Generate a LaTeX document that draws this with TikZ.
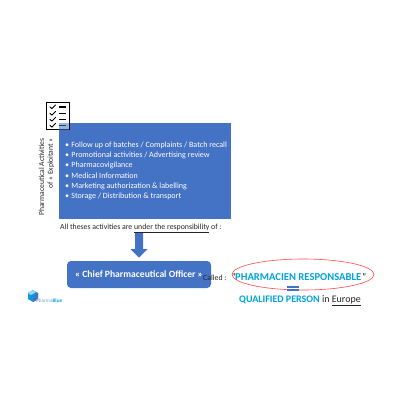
\documentclass[tikz,border=0pt]{standalone}
\usepackage{fontspec}
\setmainfont{Carlito}
\usetikzlibrary{shapes.geometric}
\definecolor{pblue}{HTML}{4472C4}
\definecolor{cyanb}{HTML}{00A3E0}
\definecolor{dtext}{HTML}{262626}
\tikzset{
 boxb/.style={fill=pblue,draw=none,inner sep=0pt},
 itemt/.style={anchor=base west,text=white,font=\fontsize{8.05}{10}\selectfont,inner sep=0pt},
 bodyt/.style={text=dtext,font=\fontsize{7.8}{10}\selectfont,inner sep=0pt},
 tick/.style={line width=1pt,black,line cap=round},
 dashl/.style={line width=1.1pt,black}
}
\begin{document}
\begin{tikzpicture}[x=1pt,y=-1pt]
\useasboundingbox (0,0) rectangle (400,400);
\fill[white] (0,0) rectangle (400,400);
% blue panel
\node[boxb,minimum width=172pt,minimum height=96pt] (panel) at (145,171) {};
% icon
\draw[line width=1.6pt,black,fill=white] (46.5,102.5) rectangle (69.5,129.5);
\foreach \yy in {107,113.5,119.5,125.5}{
 \draw[tick] (50,\yy) -- (52,\yy+1.5) -- (55.5,\yy-2);
 \draw[dashl] (59,\yy) -- (66,\yy);
}
\fill[pblue,opacity=.55] (59,123) rectangle (69,130);
% items
\node[itemt] (i1) at (65,147.5) {•\hspace{2.2pt}Follow up of batches / Complaints / Batch recall};
\node[itemt] (i2) at (65,157.7) {•\hspace{2.2pt}Promotional activities / Advertising review};
\node[itemt] (i3) at (65,167.9) {•\hspace{2.2pt}Pharmacovigilance};
\node[itemt] (i4) at (65,178.1) {•\hspace{2.2pt}Medical Information};
\node[itemt] (i5) at (65,188.3) {•\hspace{2.2pt}Marketing authorization \& labelling};
\node[itemt] (i6) at (65,198.5) {•\hspace{2.2pt}Storage / Distribution \& transport};
% side label
\node[bodyt,rotate=90,align=right,font=\fontsize{7.6}{8.6}\selectfont] (side) at (46.5,177) {Pharmaceutical Activities\\of « Exploitant »};
% responsibility
\node[bodyt,anchor=west] (resp) at (60,228) {All theses activities are \underline{under the responsibility} of :};
% rounded box
\node[boxb,rounded corners=4pt,minimum width=144pt,minimum height=27pt] (cpo) at (139,274.5) {};
\node[text=white,inner sep=0pt,font=\bfseries\fontsize{9.6}{12}\selectfont] (cpot) at (139,274.5) {« Chief Pharmaceutical Officer »};
% arrow
\fill[pblue] (135,233) -- (143,233) -- (143,249) -- (147.5,249) -- (139,257.5) -- (130.5,249) -- (135,249) -- cycle;
% called
\node[bodyt,anchor=west] (called) at (203,278) {Called :};
\node[anchor=west,inner sep=0pt,font=\fontsize{10}{10}\selectfont,text=dtext] (q1) at (231.5,277) {"};
\node[anchor=west,inner sep=0pt,text=cyanb,font=\bfseries\fontsize{10.6}{12}\selectfont] (ph) at (235,277) {PHARMACIEN RESPONSABLE};
\node[anchor=west,inner sep=0pt,font=\fontsize{10}{10}\selectfont,text=dtext] (q2) at (362,277) {"};
\node[ellipse,draw=red!70!white,line width=.6pt,minimum width=142pt,minimum height=31pt,inner sep=0pt] (ell) at (303,274.5) {};
% equals
\fill[pblue] (287,285.5) rectangle (299,287.5);
\fill[pblue] (287,289) rectangle (299,291);
% qualified
\node[anchor=center,inner sep=0pt,text=dtext,font=\fontsize{10}{12}\selectfont] (qp) at (300,301) {\textcolor{cyanb}{\bfseries QUALIFIED PERSON} in \underline{Europe}};
% logo
\fill[cyanb!80!pblue] (33,290) -- (38,293) -- (38,299) -- (33,302) -- (28,299) -- (28,293) -- cycle;
\fill[pblue] (33,296) -- (38,293) -- (38,299) -- (33,302) -- cycle;
\fill[cyanb!40!white] (28,293) -- (33,290) -- (36,292) -- (31,295) -- cycle;
\node[anchor=west,inner sep=0pt,font=\fontsize{5.2}{6}\selectfont,text=pblue!70!white] (logo) at (36,301) {Pharma\textbf{\textcolor{cyanb}{Blue}}};
\end{tikzpicture}
\end{document}
